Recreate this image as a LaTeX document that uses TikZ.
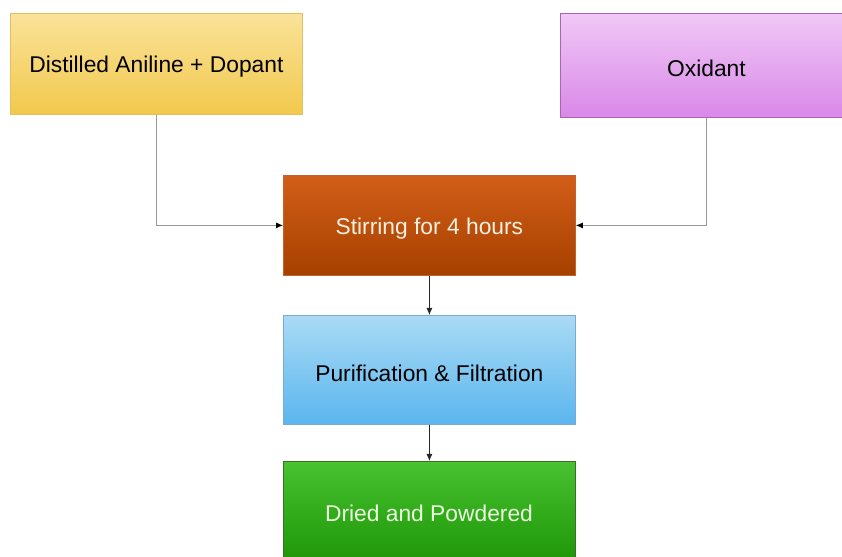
\documentclass[tikz,border=0pt]{standalone}
\usepackage{fontspec}
\setmainfont{Liberation Sans}
\usetikzlibrary{arrows.meta}
\begin{document}
\begin{tikzpicture}[x=1pt,y=1pt,
  box/.style={draw, line width=0.8pt, minimum width=292pt, minimum height=100pt, inner sep=0pt, font=\fontsize{22.8}{26}\selectfont, anchor=north west},
  lbl/.style={font=\fontsize{22.8}{26}\selectfont, inner sep=0pt},
  feed/.style={draw=black!40, line width=0.9pt, -{Latex[length=7pt,width=6pt,black]}},
  flow/.style={draw=black!85, line width=0.8pt, -{Latex[length=7pt,width=6pt]}}]
\useasboundingbox (0,0) rectangle (842,556);
\clip (0,0) rectangle (842,556);
\node[box, draw=yellow!60!orange!80!black!70, top color={rgb,255:red,250;green,226;blue,154}, bottom color={rgb,255:red,242;green,201;blue,76}, minimum width=292pt, minimum height=101pt] (dist) at (10,543) {};
\node[lbl] (distt) at ([yshift=-3pt]dist.center) {Distilled Aniline + Dopant};
\node[box, draw={rgb,255:red,170;green,100;blue,180}, top color={rgb,255:red,240;green,200;blue,246}, bottom color={rgb,255:red,217;green,136;blue,232}, minimum width=292pt, minimum height=104pt] (ox) at (560,543) {};
\node[lbl] (oxt) at ([yshift=-3pt]ox.center) {Oxidant};
\node[box, draw={rgb,255:red,190;green,100;blue,50}, top color={rgb,255:red,210;green,94;blue,24}, bottom color={rgb,255:red,166;green,64;blue,0}, minimum width=292pt, minimum height=100pt] (stir) at (283,381) {};
\node[lbl, text={rgb,255:red,250;green,240;blue,225}] (stirt) at ([yshift=-3pt]stir.center) {Stirring for 4 hours};
\node[box, draw={rgb,255:red,120;green,170;blue,210}, top color={rgb,255:red,170;green,218;blue,245}, bottom color={rgb,255:red,90;green,182;blue,238}, minimum width=292pt, minimum height=109pt] (pur) at (283,241) {};
\node[lbl] (purt) at ([yshift=-3pt]pur.center) {Purification \& Filtration};
\node[box, draw={rgb,255:red,60;green,110;blue,40}, top color={rgb,255:red,72;green,194;blue,48}, bottom color={rgb,255:red,30;green,150;blue,8}, minimum width=292pt, minimum height=100pt] (dry) at (283,95) {};
\node[lbl, text={rgb,255:red,235;green,250;blue,225}] (dryt) at (429,43) {Dried and Powdered};
\draw[feed] (dist.south -| 156,0) |- (stir.west);
\draw[feed] (ox.south -| 706,0) |- (stir.east);
\draw[flow] (stir.south) -- (pur.north);
\draw[flow] (pur.south) -- (dry.north);
\end{tikzpicture}
\end{document}
